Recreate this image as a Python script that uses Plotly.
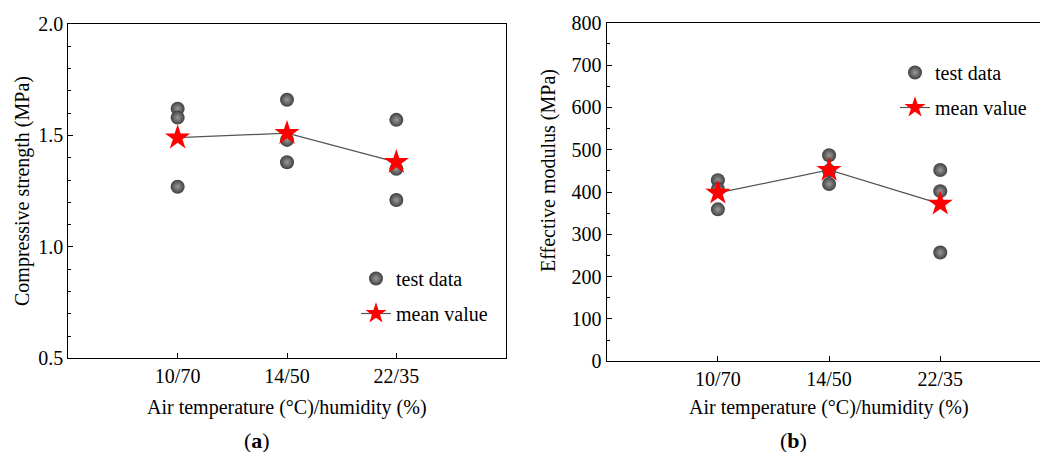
import plotly.graph_objects as go

categories = ["10/70", "14/50", "22/35"]

# Panel (a): compressive strength (MPa)
strength_x = ["10/70", "10/70", "10/70", "14/50", "14/50", "14/50", "22/35", "22/35", "22/35"]
strength_test = [1.62, 1.58, 1.27, 1.66, 1.48, 1.38, 1.57, 1.35, 1.21]
strength_mean = [1.49, 1.51, 1.38]

# Panel (b): effective modulus (MPa)
modulus_x = ["10/70", "10/70", "10/70", "14/50", "14/50", "14/50", "22/35", "22/35", "22/35"]
modulus_test = [428, 407, 359, 487, 450, 419, 452, 402, 257]
modulus_mean = [398, 452, 372]

FONT = "Liberation Serif"
FS = 20
BALL = dict(size=14, color="#404040", line=dict(width=0),
            gradient=dict(type="radial", color="#9a9a9a"))
STAR = dict(symbol="star", size=19, color="#ff0000", line=dict(width=0))
LINE = dict(color="#555555", width=1.2)

fig = go.Figure()

fig.add_trace(go.Scatter(x=strength_x, y=strength_test, mode="markers", marker=BALL,
                         name="test data", xaxis="x", yaxis="y", legend="legend",
                         legendgroup="a1"))
fig.add_trace(go.Scatter(x=categories, y=strength_mean, mode="lines+markers", marker=STAR,
                         line=LINE, name="mean value", xaxis="x", yaxis="y", legend="legend",
                         legendgroup="a2"))
fig.add_trace(go.Scatter(x=modulus_x, y=modulus_test, mode="markers", marker=BALL,
                         name="test data", xaxis="x2", yaxis="y2", legend="legend2",
                         legendgroup="b1"))
fig.add_trace(go.Scatter(x=categories, y=modulus_mean, mode="lines+markers", marker=STAR,
                         line=LINE, name="mean value", xaxis="x2", yaxis="y2", legend="legend2",
                         legendgroup="b2"))

axis_common = dict(showline=True, linecolor="black", linewidth=1.3, ticks="inside",
                   tickcolor="black", tickwidth=1.2, ticklen=5, showgrid=False, zeroline=False,
                   automargin=False,
                   tickfont=dict(family=FONT, size=FS, color="black"))

W, H = 1040, 452

fig.update_layout(
    width=W, height=H, margin=dict(l=0, r=0, t=0, b=0, autoexpand=False),
    paper_bgcolor="white", plot_bgcolor="white",
    font=dict(family=FONT, size=FS, color="black"),
    xaxis=dict(domain=[68.3 / W, 505.7 / W], type="category", categoryorder="array",
               categoryarray=categories, range=[-1, 3], mirror=True, anchor="y", **axis_common),
    yaxis=dict(domain=[(H - 358.3) / H, (H - 24) / H], range=[0.5, 2.0], dtick=0.5,
               tickformat=".1f", mirror=True, anchor="x",
               minor=dict(dtick=0.1, ticks="inside", ticklen=3, tickcolor="black", tickwidth=1.2),
               **axis_common),
    xaxis2=dict(domain=[606.7 / W, 1.0], type="category", categoryorder="array",
                categoryarray=categories, range=[-1, 2.897], mirror=True, anchor="y2",
                **axis_common),
    yaxis2=dict(domain=[(H - 361.3) / H, (H - 22.7) / H], range=[0, 800], dtick=100,
                mirror=False, anchor="x2",
                minor=dict(dtick=50, ticks="inside", ticklen=3, tickcolor="black", tickwidth=1.2),
                **axis_common),
    legend=dict(x=356 / W, y=(H - 296) / H, xanchor="left", yanchor="middle",
                traceorder="grouped", tracegroupgap=6,
                bgcolor="rgba(0,0,0,0)", font=dict(family=FONT, size=FS)),
    legend2=dict(x=895 / W, y=(H - 90) / H, xanchor="left", yanchor="middle",
                 traceorder="grouped", tracegroupgap=6,
                 bgcolor="rgba(0,0,0,0)", font=dict(family=FONT, size=FS)),
    annotations=[
        dict(text="Compressive strength (MPa)", xref="paper", yref="paper", x=22 / W,
             y=(H - 191) / H, textangle=-90, showarrow=False, font=dict(size=FS),
             xanchor="center", yanchor="middle"),
        dict(text="Air temperature (°C)/humidity (%)", xref="x domain", yref="paper", x=0.5,
             y=(H - 407) / H, showarrow=False, font=dict(size=FS),
             xanchor="center", yanchor="middle"),
        dict(text="Effective modulus (MPa)", xref="paper", yref="paper", x=548 / W,
             y=(H - 171) / H, textangle=-90, showarrow=False, font=dict(size=FS),
             xanchor="center", yanchor="middle"),
        dict(text="Air temperature (°C)/humidity (%)", xref="x2", yref="paper", x=categories[1],
             y=(H - 407) / H, showarrow=False, font=dict(size=FS),
             xanchor="center", yanchor="middle"),
        dict(text="(<b>a</b>)", xref="paper", yref="paper", x=257 / W, y=(H - 440) / H,
             showarrow=False, font=dict(size=22), xanchor="center", yanchor="middle"),
        dict(text="(<b>b</b>)", xref="paper", yref="paper", x=793 / W, y=(H - 440) / H,
             showarrow=False, font=dict(size=22), xanchor="center", yanchor="middle"),
    ],
)

fig.write_html("out.html")
